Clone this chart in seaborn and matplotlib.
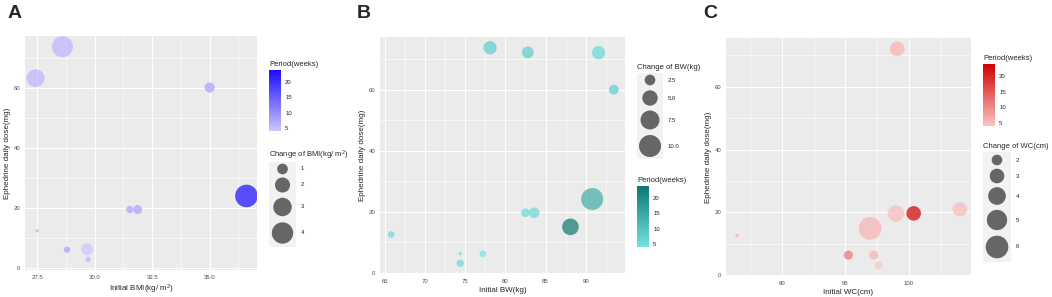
import numpy as np
import pandas as pd
import matplotlib as mpl
import matplotlib.pyplot as plt
from matplotlib.colors import LinearSegmentedColormap, Normalize
from matplotlib.ticker import AutoMinorLocator
import seaborn as sns

# ---- data ----
# A: initial BMI
bmi_x = [28.6, 27.43, 35.0, 36.6, 31.53, 31.87, 27.5, 28.8, 29.67, 29.71]
bmi_dose = [73.8, 63.3, 60.2, 24.1, 19.6, 19.6, 12.5, 6.2, 6.4, 3.0]
bmi_change = [3.9, 2.8, 0.9, 4.5, 0.45, 0.7, 0.1, 0.35, 1.27, 0.25]
bmi_period = [6, 6, 8, 24, 8, 8, 6, 8, 4, 6]

# B: initial body weight
bw_x = [78.1, 82.8, 91.6, 93.5, 90.8, 88.1, 82.5, 83.6, 65.8, 74.4, 74.4, 77.2]
bw_dose = [73.7, 72.2, 72.1, 60.0, 24.2, 15.1, 19.7, 19.7, 12.6, 6.3, 3.2, 6.3]
bw_change = [3.8, 3.1, 3.8, 2.2, 10.0, 5.8, 1.7, 2.5, 1.1, 0.4, 1.3, 1.1]
bw_period = [8, 8, 6, 8, 14, 24, 6, 6, 6, 6, 6, 4]

# C: initial waist circumference
wc_x = [99.08, 86.5, 95.24, 97.24, 97.6, 96.95, 98.97, 100.37, 104.0]
wc_dose = [72.1, 12.6, 6.4, 6.4, 3.2, 14.9, 19.7, 19.7, 21.0]
wc_change = [3.0, 1.0, 1.7, 1.7, 1.5, 6.0, 3.6, 3.0, 3.0]
wc_period = [6, 6, 12, 6, 4, 6, 5, 24, 5]

period_ticks = [5, 10, 15, 20]
bmi_levels = [1, 2, 3, 4]
bw_levels = [2.5, 5.0, 7.5, 10.0]
wc_levels = [2, 3, 4, 5, 6]

W, H = 1052, 297

sns.set_theme(style="darkgrid", rc={
    "axes.facecolor": "#EBEBEB",
    "grid.color": "white",
    "axes.edgecolor": "none",
})
plt.rcParams["font.family"] = ["Liberation Sans", "DejaVu Sans"]
plt.rcParams["mathtext.default"] = "regular"


def box(l, t, r, b):
    return [l / W, 1 - b / H, (r - l) / W, (b - t) / H]


def expand(vals):
    lo, hi = min(vals), max(vals)
    pad = (hi - lo) * 0.05
    return lo - pad, hi + pad


def panel(rect, x, y, change, period, cmap, sizes, size_norm, xticks, xticklabels, xlabel):
    ax = fig.add_axes(box(*rect))
    df = pd.DataFrame({"x": x, "dose": y, "change": change, "period": period})
    sns.scatterplot(data=df, x="x", y="dose", hue="period", size="change",
                    palette=cmap, hue_norm=(4, 24), sizes=sizes, size_norm=size_norm,
                    alpha=0.7, linewidth=0, legend=False, ax=ax)
    ax.set_xlim(*expand(x))
    ax.set_ylim(*expand(y))
    ax.set_xticks(xticks)
    ax.set_xticklabels(xticklabels)
    ax.set_yticks([0, 20, 40, 60])
    ax.xaxis.set_minor_locator(AutoMinorLocator(2))
    ax.yaxis.set_minor_locator(AutoMinorLocator(2))
    ax.grid(which="major", color="white", linewidth=0.8)
    ax.grid(which="minor", color="white", linewidth=0.4)
    ax.tick_params(which="major", length=2, width=0.6, color="#333333",
                   labelsize=4.3, labelcolor="#4D4D4D", pad=1.5)
    ax.tick_params(which="minor", length=0)
    for s in ax.spines.values():
        s.set_visible(False)
    ax.set_xlabel(xlabel, fontsize=5.8, labelpad=2)
    ax.set_ylabel("Ephedrine daily dose(mg)", fontsize=5.8, labelpad=2)
    return ax


def colorbar(rect, title, cmap):
    cax = fig.add_axes(box(*rect))
    cb = fig.colorbar(mpl.cm.ScalarMappable(norm=Normalize(4, 24), cmap=cmap),
                      cax=cax, ticks=period_ticks)
    cb.outline.set_visible(False)
    cax.tick_params(length=2, width=0.5, color="white", direction="in",
                    labelsize=4.3, labelcolor="#222222", pad=3, left=True)
    cax.set_title(title, fontsize=5.5, loc="left", pad=3, x=0)


def size_legend(rect, title, levels, ypos, sizes, size_norm, label_fmt):
    l, t, r, b = rect
    lax = fig.add_axes(box(*rect))
    lax.set_facecolor("#F2F2F2")
    w, h = r - l, b - t
    sns.scatterplot(x=[w / 2] * len(levels), y=ypos, size=levels, sizes=sizes,
                    size_norm=size_norm, color="#666666", linewidth=0,
                    legend=False, ax=lax)
    lax.set_xlim(0, w)
    lax.set_ylim(h, 0)
    lax.set_xticks([])
    lax.set_yticks([])
    lax.grid(False)
    for s in lax.spines.values():
        s.set_visible(False)
    for lv, yy in zip(levels, ypos):
        lax.text(w + 5, yy, label_fmt.format(lv), fontsize=4.3, color="#222222",
                 va="center", ha="left", clip_on=False)
    lax.set_title(title, fontsize=5.5, loc="left", pad=3, x=0)


blue = LinearSegmentedColormap.from_list("bmi", ["#CBC5FF", "#1A0CFF"])
teal = LinearSegmentedColormap.from_list("bw", ["#72E4E2", "#0E7670"])
red = LinearSegmentedColormap.from_list("wc", ["#FBC4C4", "#D10000"])

bmi_sizes, bmi_norm = (0, 295), (0, 5)
bw_sizes, bw_norm = (0, 251), (0.2, 10)
wc_sizes, wc_norm = (7, 266), (1, 6)

fig = plt.figure(figsize=(W / 100, H / 100), dpi=100)

panel((25, 36, 257, 270), bmi_x, bmi_dose, bmi_change, bmi_period, blue,
      bmi_sizes, bmi_norm, [27.5, 30, 32.5, 35], ["27.5", "30.0", "32.5", "35.0"],
      "Initial BMI(kg/ m$^2$)")
colorbar((269, 70, 281, 131), "Period(weeks)", blue)
size_legend((269, 162, 296, 247), "Change of BMI(kg/ m$^2$)", bmi_levels,
            [7, 23, 45, 71], bmi_sizes, bmi_norm, "{:g}")

panel((380, 37, 625, 274), bw_x, bw_dose, bw_change, bw_period, teal,
      bw_sizes, bw_norm, [65, 70, 75, 80, 85, 90], ["65", "70", "75", "80", "85", "90"],
      "Initial BW(kg)")
size_legend((637, 73, 663, 159), "Change of BW(kg)", bw_levels,
            [7, 25, 47, 73], bw_sizes, bw_norm, "{:.1f}")
colorbar((637, 186, 649, 247), "Period(weeks)", teal)

panel((726, 38, 971, 276), wc_x, wc_dose, wc_change, wc_period, red,
      wc_sizes, wc_norm, [90, 95, 100], ["90", "95", "100"],
      "Initial WC(cm)")
colorbar((983, 64, 995, 126), "Period(weeks)", red)
size_legend((983, 152, 1011, 262), "Change of WC(cm)", wc_levels,
            [8, 24, 44, 68, 95], wc_sizes, wc_norm, "{:g}")

for lab, xp in [("A", 8), ("B", 357), ("C", 703)]:
    fig.text(xp / W, 1 - 5 / H, lab, fontsize=14, fontweight="bold", va="top", ha="left")

fig.savefig("out.png", dpi=100)
